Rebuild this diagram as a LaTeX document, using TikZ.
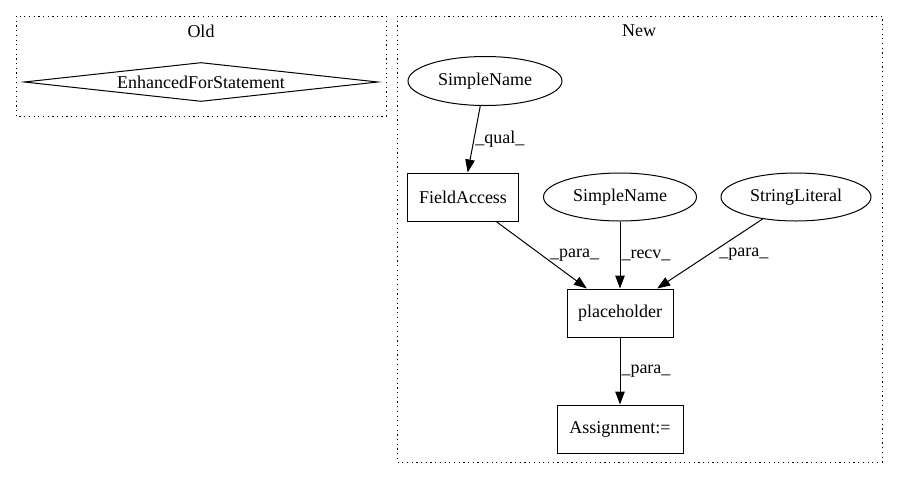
\documentclass[tikz,border=0pt]{standalone}
\usepackage{fontspec}
\setmainfont{Liberation Serif}
\usetikzlibrary{shapes.geometric,arrows.meta}
\begin{document}
\begin{tikzpicture}[x=1pt,y=-1pt,
  every node/.style={font=\fontsize{18}{21}\selectfont},
  cluster/.style={draw,line width=1pt,dash pattern=on 1.2pt off 3.5pt},
  box/.style={draw,rectangle,line width=1pt,inner sep=0pt},
  oval/.style={draw,ellipse,line width=1pt,inner sep=0pt},
  edge/.style={draw,line width=1pt,-{Triangle[length=13pt,width=9.5pt]}},
  elabel/.style={anchor=west,inner sep=1pt}]
\useasboundingbox (0,0) rectangle (897,480);
% clusters
\draw[cluster] (16,16) rectangle (386,116);
\node (oldlbl) at (201,31) {Old};
\draw[cluster] (397,16) rectangle (882,462);
\node (newlbl) at (639,31) {New};
% Old
\node[draw,diamond,aspect=9,line width=1pt,inner sep=0pt,minimum width=354pt,minimum height=39pt] (efs) at (201,82) {EnhancedForStatement};
% New
\node[oval,minimum width=154pt,minimum height=49pt] (sn1) at (485,81) {SimpleName};
\node[box,minimum width=111pt,minimum height=48pt] (fa) at (463,197) {FieldAccess};
\node[oval,minimum width=153pt,minimum height=48pt] (sn2) at (620,197) {SimpleName};
\node[oval,minimum width=150pt,minimum height=48pt] (sl) at (796,197) {StringLiteral};
\node[box,minimum width=106pt,minimum height=48pt] (ph) at (620,313) {placeholder};
\node[box,minimum width=126pt,minimum height=48pt] (as) at (620,429) {Assignment:=};
% edges
\path[edge] (sn1) -- node[elabel,pos=0.5,xshift=0pt] {\_qual\_} (fa);
\path[edge] (fa) -- node[elabel,pos=0.5,xshift=7pt] {\_para\_} (ph);
\path[edge] (sn2) -- node[elabel,pos=0.5] {\_recv\_} (ph);
\path[edge] (sl) -- node[elabel,pos=0.5,xshift=8pt] {\_para\_} (ph);
\path[edge] (ph) -- node[elabel,pos=0.5] {\_para\_} (as);
\end{tikzpicture}
\end{document}
